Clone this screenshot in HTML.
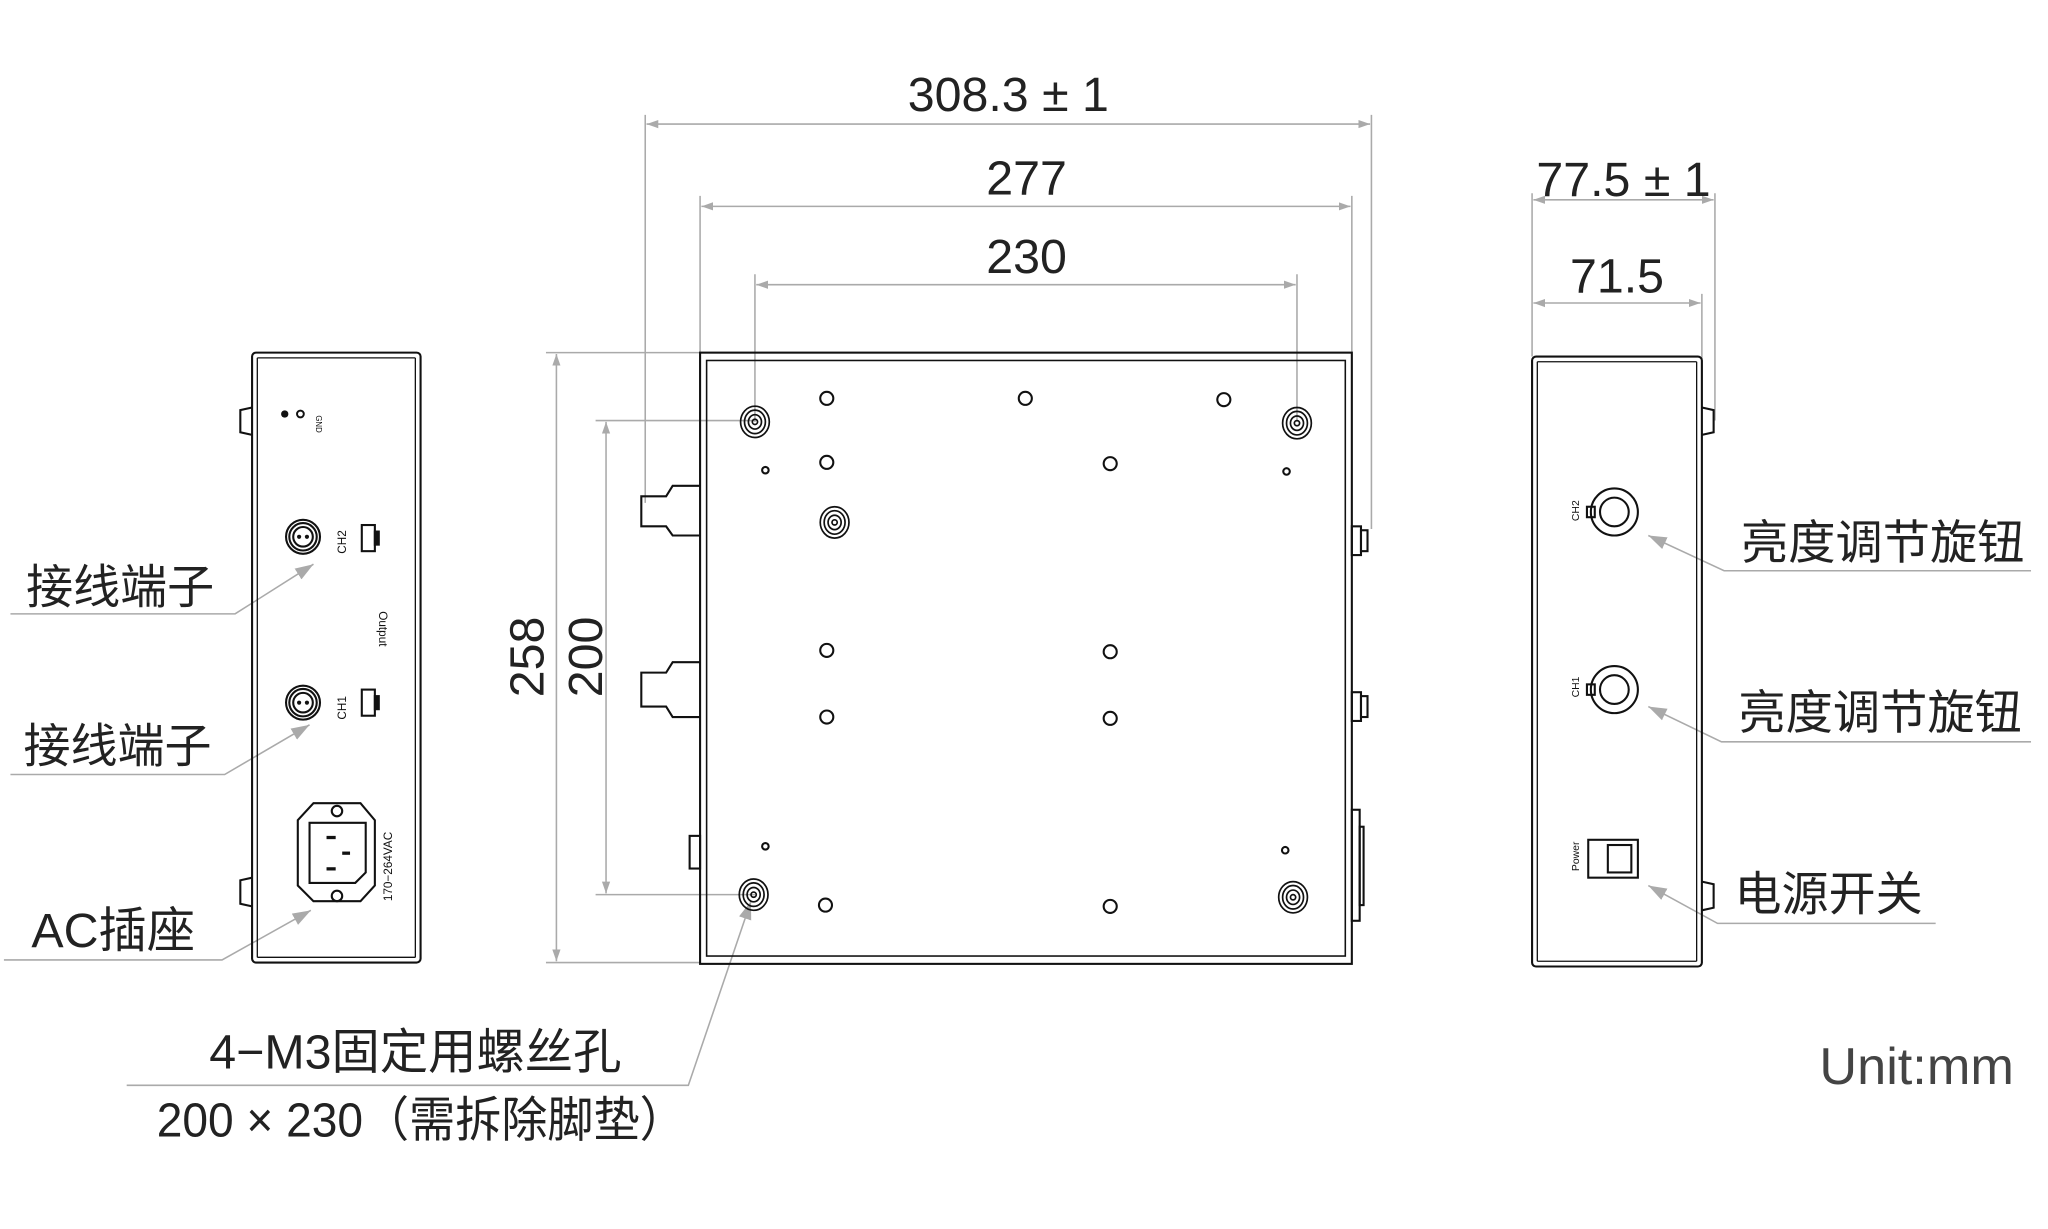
<!DOCTYPE html>
<html><head><meta charset="utf-8"><style>
html,body{margin:0;padding:0;background:#fff;}
svg{display:block;}
text{font-family:"Liberation Sans","Noto Sans CJK SC",sans-serif;}
</style></head><body>
<svg width="2048" height="1229" viewBox="0 0 1568 941" preserveAspectRatio="none" xmlns="http://www.w3.org/2000/svg">
<defs>
<marker id="ar" viewBox="0 0 10 10" refX="10" refY="5" markerWidth="9" markerHeight="9" orient="auto-start-reverse" markerUnits="userSpaceOnUse"><path d="M0,1.5 L10,5 L0,8.5 Z" fill="#aaa"/></marker>
<marker id="ar2" viewBox="0 0 10 10" refX="10" refY="5" markerWidth="14" markerHeight="14" orient="auto" markerUnits="userSpaceOnUse"><path d="M0,1.5 L10,5 L0,8.5 Z" fill="#aaa"/></marker>
</defs>
<g stroke="#aaa" stroke-width="1.2" fill="none">
<line x1="494" y1="88" x2="494" y2="385"/><line x1="1050" y1="88" x2="1050" y2="405"/>
<line x1="495" y1="95" x2="1049" y2="95" marker-start="url(#ar)" marker-end="url(#ar)"/>
<line x1="536" y1="150" x2="536" y2="270"/><line x1="1035" y1="150" x2="1035" y2="270"/>
<line x1="537" y1="158" x2="1034" y2="158" marker-start="url(#ar)" marker-end="url(#ar)"/>
<line x1="578" y1="210" x2="578" y2="323"/><line x1="993" y1="210" x2="993" y2="323"/>
<line x1="579" y1="218" x2="992" y2="218" marker-start="url(#ar)" marker-end="url(#ar)"/>
<line x1="418" y1="270" x2="536" y2="270"/><line x1="418" y1="737" x2="536" y2="737"/>
<line x1="426" y1="271" x2="426" y2="736" marker-start="url(#ar)" marker-end="url(#ar)"/>
<line x1="456" y1="322" x2="578" y2="322"/><line x1="456" y1="685" x2="578" y2="685"/>
<line x1="464" y1="323" x2="464" y2="684" marker-start="url(#ar)" marker-end="url(#ar)"/>
<line x1="1173" y1="148" x2="1173" y2="273"/><line x1="1313" y1="148" x2="1313" y2="322"/><line x1="1303" y1="225" x2="1303" y2="275"/>
<line x1="1174" y1="153" x2="1312" y2="153" marker-start="url(#ar)" marker-end="url(#ar)"/>
<line x1="1174" y1="232" x2="1302" y2="232" marker-start="url(#ar)" marker-end="url(#ar)"/>
<polyline points="8,470 180,470 240,432" marker-end="url(#ar2)"/>
<polyline points="8,593 172,593 237,555" marker-end="url(#ar2)"/>
<polyline points="3,735 170,735 238,697" marker-end="url(#ar2)"/>
<polyline points="97,831 527,831 575,690" marker-end="url(#ar2)"/>
<polyline points="1555,437 1320,437 1262,410" marker-end="url(#ar2)"/>
<polyline points="1555,568 1318,568 1262,541" marker-end="url(#ar2)"/>
<polyline points="1482,707 1315,707 1262,678" marker-end="url(#ar2)"/>
</g>
<g fill="#222" font-size="37" text-anchor="middle">
<text x="772" y="85">308.3 ± 1</text>
<text x="786" y="149">277</text>
<text x="786" y="209">230</text>
<text x="1243" y="150">77.5 ± 1</text>
<text x="1238" y="224">71.5</text>
<text transform="translate(416,503) rotate(-90)">258</text>
<text transform="translate(461,503) rotate(-90)">200</text>
</g>
<g fill="#222" font-size="36">
<text x="20" y="462">接线端子</text>
<text x="18" y="584">接线端子</text>
<text x="24" y="725" font-size="37">AC插座</text>
<text x="318" y="818" text-anchor="middle" font-size="37">4−M3固定用螺丝孔</text>
<text x="120" y="870" font-size="37" textLength="405" lengthAdjust="spacingAndGlyphs">200 × 230（需拆除脚垫）</text>
<text x="1333" y="428" textLength="217" lengthAdjust="spacingAndGlyphs">亮度调节旋钮</text>
<text x="1331" y="558" textLength="217" lengthAdjust="spacingAndGlyphs">亮度调节旋钮</text>
<text x="1328" y="697" textLength="144" lengthAdjust="spacingAndGlyphs">电源开关</text>
<text x="1393" y="830" fill="#444" font-size="40">Unit:mm</text>
</g>
<g stroke="#111" fill="none" stroke-width="1.6">
<rect x="193" y="270" width="129" height="467" rx="3"/>
<line x1="197" y1="274" x2="318" y2="274" stroke-width="1"/><line x1="197" y1="733" x2="318" y2="733" stroke-width="1"/>
<line x1="197" y1="274" x2="197" y2="733" stroke-width="1"/><line x1="318" y1="274" x2="318" y2="733" stroke-width="1"/>
<polyline points="193,312 184,314 184,331 193,333"/>
<polyline points="193,672 184,674 184,692 193,694"/>
<circle cx="232" cy="411" r="13"/><circle cx="232" cy="411" r="10.5"/><circle cx="232" cy="411" r="7.5"/>
<circle cx="232" cy="538" r="13"/><circle cx="232" cy="538" r="10.5"/><circle cx="232" cy="538" r="7.5"/>
<rect x="277" y="402" width="10" height="20"/><rect x="287" y="407" width="3" height="10" fill="#111"/>
<rect x="277" y="528" width="10" height="20"/><rect x="287" y="533" width="3" height="10" fill="#111"/>
<polygon points="240,615 276,615 287,628 287,678 276,690 240,690 228,678 228,628"/>
<polygon points="237,630 280,630 280,668 272,676 237,676"/>
<circle cx="258" cy="621" r="4"/><circle cx="258" cy="686" r="4"/>
</g>
<g fill="#111">
<circle cx="218" cy="317" r="2.8"/><circle cx="230" cy="317" r="2.6" fill="none" stroke="#111" stroke-width="1.5"/>
<circle cx="229" cy="411" r="1.6"/><circle cx="235" cy="411" r="1.6"/>
<circle cx="229" cy="538" r="1.6"/><circle cx="235" cy="538" r="1.6"/>
<rect x="250" y="640" width="7" height="2.5"/><rect x="250" y="664" width="7" height="2.5"/><rect x="262" y="652" width="6" height="2.5"/>
<text transform="translate(242,318) rotate(90)" font-size="6">GND</text>
<text transform="translate(265,424) rotate(-90)" font-size="9">CH2</text>
<text transform="translate(265,551) rotate(-90)" font-size="9">CH1</text>
<text transform="translate(290,468) rotate(90)" font-size="9">Output</text>
<text transform="translate(300,690) rotate(-90)" font-size="9">170−264VAC</text>
<text transform="translate(1209,399) rotate(-90)" font-size="8">CH2</text>
<text transform="translate(1209,534) rotate(-90)" font-size="8">CH1</text>
<text transform="translate(1209,667) rotate(-90)" font-size="8">Power</text>
</g>
<g stroke="#111" fill="none" stroke-width="1.6">
<rect x="536" y="270" width="499" height="468"/>
<rect x="541" y="276" width="489" height="456" stroke-width="1.2"/>
<polyline points="536,372 515,372 510,380 491,380 491,403 510,403 515,410 536,410"/>
<polyline points="536,507 515,507 510,515 491,515 491,541 510,541 515,549 536,549"/>
<rect x="528" y="640" width="8" height="25"/>
<rect x="1035" y="403" width="7" height="22"/><rect x="1042" y="406" width="5" height="16"/>
<rect x="1035" y="530" width="7" height="22"/><rect x="1042" y="533" width="5" height="16"/>
<rect x="1035" y="620" width="6" height="85"/><rect x="1041" y="633" width="3" height="60"/>
<g stroke-width="1.3">
<ellipse cx="578" cy="323" rx="11" ry="12"/><ellipse cx="578" cy="323" rx="8" ry="9"/><ellipse cx="578" cy="323" rx="5" ry="5.5"/><circle cx="578" cy="323" r="2"/>
<ellipse cx="993" cy="324" rx="11" ry="12"/><ellipse cx="993" cy="324" rx="8" ry="9"/><ellipse cx="993" cy="324" rx="5" ry="5.5"/><circle cx="993" cy="324" r="2"/>
<ellipse cx="639" cy="400" rx="11" ry="12"/><ellipse cx="639" cy="400" rx="8" ry="9"/><ellipse cx="639" cy="400" rx="5" ry="5.5"/><circle cx="639" cy="400" r="2"/>
<ellipse cx="577" cy="685" rx="11" ry="12"/><ellipse cx="577" cy="685" rx="8" ry="9"/><ellipse cx="577" cy="685" rx="5" ry="5.5"/><circle cx="577" cy="685" r="2"/>
<ellipse cx="990" cy="687" rx="11" ry="12"/><ellipse cx="990" cy="687" rx="8" ry="9"/><ellipse cx="990" cy="687" rx="5" ry="5.5"/><circle cx="990" cy="687" r="2"/>
</g>
<g stroke-width="1.6">
<circle cx="633" cy="305" r="5"/><circle cx="785" cy="305" r="5"/><circle cx="937" cy="306" r="5"/>
<circle cx="633" cy="354" r="5"/><circle cx="850" cy="355" r="5"/>
<circle cx="633" cy="498" r="5"/><circle cx="850" cy="499" r="5"/>
<circle cx="633" cy="549" r="5"/><circle cx="850" cy="550" r="5"/>
<circle cx="632" cy="693" r="5"/><circle cx="850" cy="694" r="5"/>
<circle cx="586" cy="360" r="2.5"/><circle cx="985" cy="361" r="2.5"/><circle cx="586" cy="648" r="2.5"/><circle cx="984" cy="651" r="2.5"/>
</g>
</g>
<g stroke="#111" fill="none" stroke-width="1.6">
<rect x="1173" y="273" width="130" height="467" rx="3"/>
<line x1="1177" y1="277" x2="1299" y2="277" stroke-width="1"/><line x1="1177" y1="736" x2="1299" y2="736" stroke-width="1"/>
<line x1="1177" y1="277" x2="1177" y2="736" stroke-width="1"/><line x1="1299" y1="277" x2="1299" y2="736" stroke-width="1"/>
<polyline points="1303,312 1312,314 1312,331 1303,333"/>
<polyline points="1303,675 1312,677 1312,695 1303,697"/>
<circle cx="1236" cy="392" r="18"/><circle cx="1236" cy="392" r="11"/><rect x="1215" y="388" width="6" height="8"/>
<circle cx="1236" cy="528" r="18"/><circle cx="1236" cy="528" r="11"/><rect x="1215" y="524" width="6" height="8"/>
<rect x="1216" y="643" width="38" height="29"/><rect x="1231" y="647" width="18" height="21"/>
</g>
</svg>
</body></html>
